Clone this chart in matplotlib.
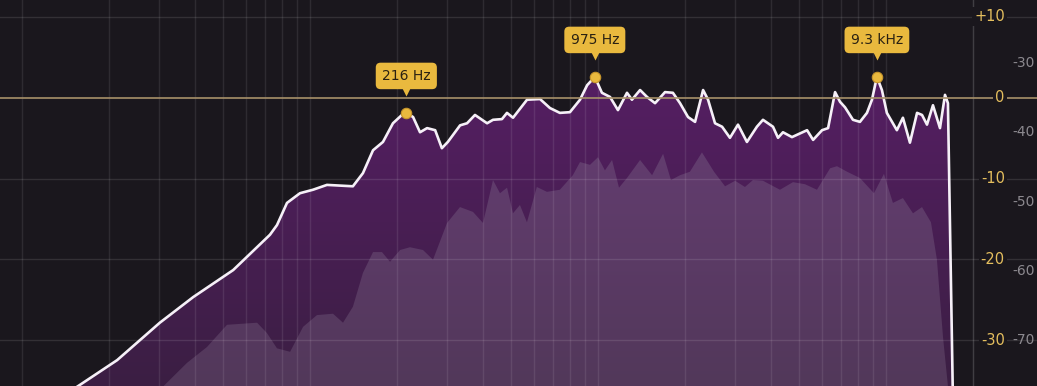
import matplotlib
matplotlib.use("Agg")
import matplotlib.pyplot as plt
import numpy as np
from matplotlib.colors import LinearSegmentedColormap
from matplotlib.patches import Polygon
from matplotlib.transforms import blended_transform_factory, offset_copy

# spettro in uscita (linea bianca), Hz / dB
out_freq = [14, 21.4, 30.1, 39.3, 54.1, 72.6, 76.8, 83.2, 92.3, 102.4,
            114.5, 140.9, 152.7, 165.5, 179.2, 194.1, 208.5, 216, 228, 241,
            255, 272, 287, 301, 332, 351, 374, 412, 432, 464,
            483, 507, 567, 629, 681, 737, 799, 866, 917, 975,
            1032, 1101, 1173, 1261, 1312, 1400, 1480, 1578, 1709, 1820,
            1927, 2054, 2173, 2317, 2411, 2549, 2697, 2872, 3063, 3290,
            3563, 3740, 4052, 4218, 4389, 4716, 5321, 5584, 5998, 6295,
            6656, 6925, 7208, 7680, 8120, 8590, 8940, 9300, 9680, 10070,
            10910, 11450, 12110, 12820, 13340, 13880, 14560, 15400, 16030, 16410,
            17100]
out_db = [-78, -72.9, -67.5, -63.8, -59.9, -54.8, -53.4, -50.2, -48.8, -48.3,
          -47.6, -47.8, -45.9, -42.6, -41.4, -38.7, -37.5, -37.2, -37.8, -40.0,
          -39.4, -39.7, -42.3, -41.4, -39.0, -38.7, -37.5, -38.7, -38.2, -38.1,
          -37.2, -37.9, -35.3, -35.2, -36.5, -37.2, -37.1, -35.3, -33.2, -32.0,
          -34.3, -34.9, -36.8, -34.3, -35.3, -33.9, -34.9, -35.8, -34.2, -34.3,
          -35.8, -37.8, -38.5, -33.9, -35.3, -38.7, -39.2, -40.8, -38.9, -41.4,
          -39.2, -38.2, -39.2, -40.8, -40.0, -40.7, -39.7, -41.1, -39.7, -39.4,
          -34.2, -35.6, -36.4, -38.2, -38.5, -37.2, -35.3, -32.0, -33.9, -37.2,
          -39.7, -37.9, -41.5, -37.2, -37.5, -38.9, -36.1, -39.4, -34.6, -35.8,
          -80]

# spettro in ingresso (riempimento chiaro)
in_freq = [27.8, 37.4, 43.9, 51.5, 65.5, 70.9, 76.8, 85.3, 94.6, 105.7,
           120.2, 130.2, 140.9, 152.7, 165.5, 177.8, 189.6, 205.5, 222.4, 246.8,
           267.4, 299.1, 331.7, 368.2, 398.8, 431.9, 456.8, 483.3, 506.8, 535.8,
           566.6, 613.3, 664.8, 737.3, 818, 866.1, 938.2, 1000, 1057, 1119,
           1183, 1261, 1400, 1541, 1683, 1792, 1927, 2085, 2296, 2529,
           2762, 2993, 3238, 3452, 3740, 4285, 4755, 5233, 5759, 6397,
           6760, 7328, 8120, 9084, 9839, 10570, 11450, 12410, 13340, 14330,
           15030, 15780, 16600]
in_db = [-78.6, -73.3, -71.0, -67.8, -67.5, -69.0, -71.2, -71.7, -68.1, -66.4,
         -66.2, -67.5, -65.2, -60.3, -57.3, -57.3, -58.7, -57.0, -56.6, -57.0,
         -58.4, -53.1, -50.8, -51.5, -53.1, -46.9, -48.8, -48.0, -51.7, -50.5,
         -53.0, -47.9, -48.6, -48.3, -46.2, -44.3, -44.7, -43.6, -45.5, -44.0,
         -48.0, -46.6, -44.0, -46.2, -43.1, -46.9, -46.2, -45.7, -42.9, -45.7,
         -47.8, -47.0, -47.9, -46.9, -47.0, -48.3, -47.2, -47.5, -48.3, -45.2,
         -44.9, -45.7, -46.6, -48.8, -46.0, -50.2, -49.5, -51.7, -50.8, -53.0,
         -58.4, -69.6, -78.7]

peak_freq = [216, 975, 9300]
peak_db = [-37.2, -32.0, -32.0]
peak_labels = ['216 Hz', '975 Hz', '9.3 kHz']

eq_ticks = [10, 0, -10, -20, -30]
eq_tick_labels = ['+10', '0', '-10', '-20', '-30']
spec_ticks = [-30, -40, -50, -60, -70]
spec_tick_labels = ['-30', '-40', '-50', '-60', '-70']

BG = '#1a171d'
YEL = '#e9b93e'


def gradient_fill(axis, freq, db, top, bottom, z):
    verts = [(freq[0], -200)] + list(zip(freq, db)) + [(freq[-1], -200)]
    poly = Polygon(verts, closed=True, facecolor='none', edgecolor='none')
    axis.add_patch(poly)
    cmap = LinearSegmentedColormap.from_list('g', [bottom, top])
    grad = np.linspace(0, 1, 256).reshape(-1, 1)
    im = axis.imshow(grad, cmap=cmap, aspect='auto', extent=(0, 1, 0, 1),
                     origin='lower', transform=axis.transAxes, zorder=z,
                     interpolation='bilinear')
    im.set_clip_path(poly)


fig = plt.figure(figsize=(10.37, 3.86), dpi=100)
fig.patch.set_facecolor(BG)
ax = fig.add_axes([0, 0, 1, 1])
ax2 = ax.twinx()
ax.set_zorder(ax2.get_zorder() + 1)
ax.patch.set_visible(False)
for a in (ax, ax2):
    a.set_xscale('log')
    a.set_xlim(8.386, 33450)
    a.axis('off')
    a.set_autoscale_on(False)
ax.set_ylim(-35.62, 12.04)
ax2.set_ylim(-76.64, -20.90)

# spettri
gradient_fill(ax2, out_freq, out_db, '#5c1e6b', '#3b1f43', 1)
gradient_fill(ax2, in_freq, in_db, '#6d3f7c', '#52385a', 2)
ax2.plot(out_freq, out_db, color='#f6f0f8', lw=1.9, zorder=4,
         solid_joinstyle='round', solid_capstyle='round')

# griglia
grid_freqs = [m * 10 ** d for d in range(1, 5) for m in range(1, 10)]
grid_freqs = [f for f in grid_freqs if f <= 20000] + [20000]
for f in grid_freqs:
    ax.axvline(f, color='white', alpha=0.09, lw=1, zorder=1)
for t in eq_ticks:
    if t == 0:
        ax.axhline(t, color='#a8916a', alpha=0.85, lw=1.4, zorder=1)
    else:
        ax.axhline(t, color='white', alpha=0.11, lw=1, zorder=1)

# etichette della scala
tr_eq = blended_transform_factory(ax.transAxes, ax.transData)
for t, s in zip(eq_ticks, eq_tick_labels):
    ax.text(0.969, t, s, transform=tr_eq, ha='right', va='center',
            color='#e4be5e', fontsize=10.5, zorder=5,
            bbox=dict(facecolor=BG, edgecolor='none', pad=1.5))
tr_sp = blended_transform_factory(ax.transAxes, ax2.transData)
for t, s in zip(spec_ticks, spec_tick_labels):
    ax.text(0.998, t, s, transform=tr_sp, ha='right', va='center',
            color='#8c898f', fontsize=10, zorder=5)

# picchi
ax.plot(peak_freq, peak_db, 'o', transform=ax2.transData, ms=7.5,
        color=YEL, mec='#c9972c', mew=0.8, zorder=6)
tri_tr = offset_copy(ax2.transData, fig=fig, x=0, y=21, units='dots')
ax.plot(peak_freq, peak_db, 'v', transform=tri_tr, ms=5.5, color=YEL,
        mec='none', zorder=7)
for f, d, s in zip(peak_freq, peak_db, peak_labels):
    ax.annotate(s, xy=(f, d), xycoords=ax2.transData, xytext=(0, 26.6),
                textcoords='offset points', ha='center', va='center',
                fontsize=10, color='#2a2112', zorder=8,
                bbox=dict(boxstyle='round,pad=0.45,rounding_size=0.35',
                          fc=YEL, ec='none'))

fig.savefig('out.png', dpi=100, facecolor=BG)
